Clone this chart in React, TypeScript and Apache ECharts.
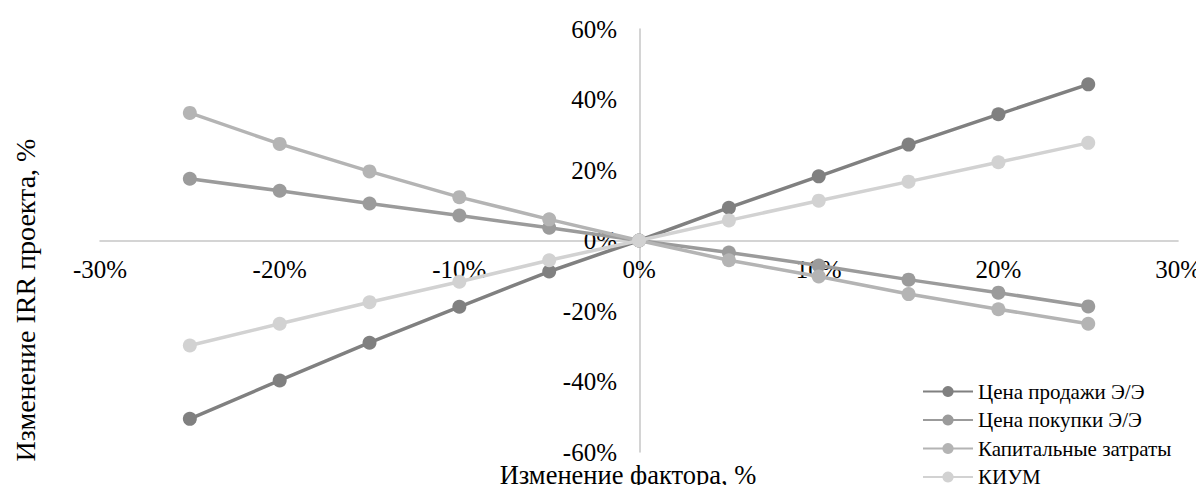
import React, { useEffect, useRef } from "react";
import * as echarts from "echarts";

const factorChange = [-25, -20, -15, -10, -5, 0, 5, 10, 15, 20, 25];
const salePrice = [-50.6, -39.7, -29.0, -18.8, -8.8, 0, 9.3, 18.2, 27.2, 35.8, 44.3];
const buyPrice = [17.5, 14.1, 10.5, 7.1, 3.6, 0, -3.4, -7.1, -11.1, -14.8, -18.7];
const capex = [36.2, 27.4, 19.6, 12.3, 6.0, 0, -5.6, -10.2, -15.2, -19.5, -23.6];
const kium = [-29.8, -23.6, -17.5, -11.7, -5.6, 0, 5.7, 11.3, 16.7, 22.2, 27.7];

const seriesNames = ["Цена продажи Э/Э", "Цена покупки Э/Э", "Капитальные затраты", "КИУМ"];
const seriesColors = ["#808080", "#9b9b9b", "#b4b4b4", "#d2d2d2"];
const xTitle = "Изменение фактора, %";
const yTitle = "Изменение IRR проекта, %";

const FONT = '"Liberation Serif", "Times New Roman", serif';

const GRID_LEFT = 100;
const GRID_RIGHT = 24;
const GRID_TOP = 29;
const GRID_BOTTOM = 41;
const W = 1204;
const H = 493;

export default function App() {
  const ref = useRef<HTMLDivElement>(null);
  useEffect(() => {
    if (!ref.current) return;
    const chart = echarts.init(ref.current, null, { renderer: "svg" });
    const values = [salePrice, buyPrice, capex, kium];
    const xMin = -30, xMax = 30, yMin = -60, yMax = 60;
    const plotW = W - GRID_LEFT - GRID_RIGHT;
    const plotH = H - GRID_TOP - GRID_BOTTOM;
    // offsets so that the axes (with their labels) sit on the zero lines
    const yAxisOffset = -((0 - xMin) / (xMax - xMin)) * plotW;
    const xAxisOffset = -((0 - yMin) / (yMax - yMin)) * plotH;
    chart.setOption({
      animation: false,
      textStyle: { fontFamily: FONT },
      grid: { left: GRID_LEFT, right: GRID_RIGHT, top: GRID_TOP, bottom: GRID_BOTTOM, containLabel: false },
      xAxis: {
        type: "value",
        min: xMin,
        max: xMax,
        interval: 10,
        position: "bottom",
        offset: xAxisOffset,
        axisLine: { onZero: false, lineStyle: { color: "#c6c6c6", width: 1.5 } },
        axisTick: { show: false },
        splitLine: { show: false },
        axisLabel: {
          formatter: (v: number) => `${v}%`,
          color: "#000",
          fontSize: 25,
          fontFamily: FONT,
          margin: 16,
        },
      },
      yAxis: {
        type: "value",
        min: yMin,
        max: yMax,
        interval: 20,
        position: "left",
        offset: yAxisOffset,
        axisLine: { show: true, onZero: false, lineStyle: { color: "#c6c6c6", width: 1.5 } },
        axisTick: { show: false },
        splitLine: { show: false },
        axisLabel: {
          formatter: (v: number) => `${v}%`,
          color: "#000",
          fontSize: 25,
          fontFamily: FONT,
          margin: 23,
        },
      },
      legend: {
        orient: "vertical",
        left: 922,
        top: 381,
        padding: 0,
        itemWidth: 50,
        itemHeight: 14,
        itemGap: 7.5,
        textStyle: { fontSize: 21, color: "#000", fontFamily: FONT },
        data: seriesNames,
      },
      series: seriesNames.map((name, i) => ({
        name,
        type: "line",
        data: factorChange.map((x, j) => [x, values[i][j]]),
        symbol: "circle",
        symbolSize: 14,
        lineStyle: { color: seriesColors[i], width: 3.5 },
        itemStyle: { color: seriesColors[i] },
        z: 2 + i,
      })),
      graphic: [
        {
          type: "text",
          x: 628,
          y: 475,
          style: {
            text: xTitle,
            fontSize: 26.5,
            fontFamily: FONT,
            fill: "#000",
            align: "center",
            verticalAlign: "middle",
          },
        },
        {
          type: "text",
          x: 25,
          y: 300,
          rotation: Math.PI / 2,
          style: {
            text: yTitle,
            fontSize: 28,
            fontFamily: FONT,
            fill: "#000",
            align: "center",
            verticalAlign: "middle",
          },
        },
      ],
    });
    return () => chart.dispose();
  }, []);
  return <div ref={ref} style={{ width: W, height: H, margin: -8 }} />;
}
